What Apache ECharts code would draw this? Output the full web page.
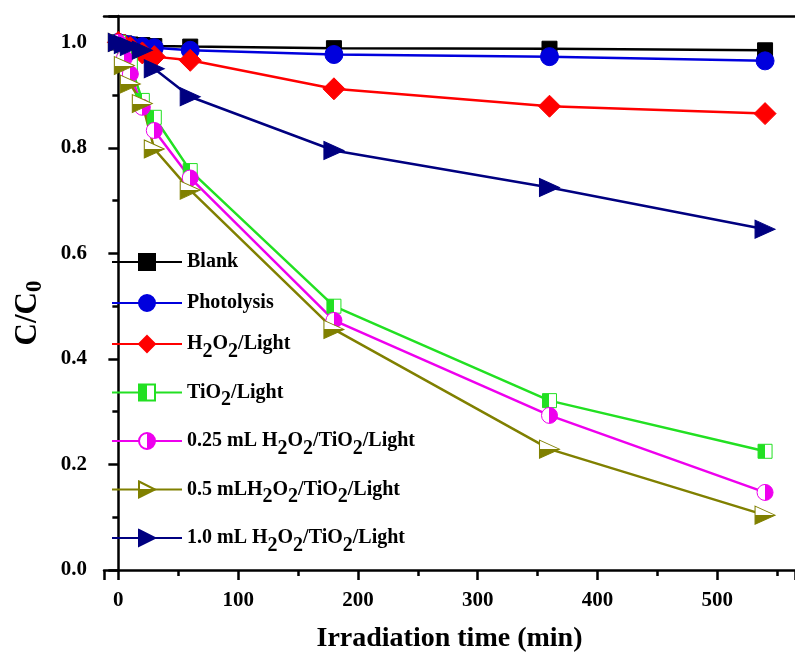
<!DOCTYPE html>
<html>
<head>
<meta charset="utf-8">
<script src="https://cdn.jsdelivr.net/npm/echarts@6/dist/echarts.min.js"></script>
<style>
  html, body { margin: 0; padding: 0; background: #fff; }
  #chart { width: 795px; height: 658px; }
</style>
</head>
<body>
<div id="chart"></div>
<script>
// irradiation time (min)
const times = [0, 5, 10, 20, 30, 60, 180, 360, 540];

// C/C0 for each run
const blank = [1.0, 0.998, 0.996, 0.995, 0.993, 0.992, 0.989, 0.988, 0.985];
const photolysis = [1.0, 0.997, 0.995, 0.992, 0.99, 0.985, 0.977, 0.973, 0.965];
const h2o2Light = [1.0, 0.995, 0.99, 0.98, 0.973, 0.966, 0.912, 0.879, 0.865];
const tio2Light = [1.0, 0.975, 0.958, 0.89, 0.858, 0.757, 0.5, 0.321, 0.225];
const h2o2_025 = [1.0, 0.97, 0.94, 0.877, 0.833, 0.743, 0.473, 0.293, 0.147];
const h2o2_05 = [1.0, 0.956, 0.921, 0.884, 0.798, 0.72, 0.456, 0.229, 0.104];
const h2o2_10 = [1.0, 0.996, 0.992, 0.985, 0.95, 0.897, 0.795, 0.725, 0.646];

const seriesNames = [
    'Blank',
    'Photolysis',
    'H2O2/Light',
    'TiO2/Light',
    '0.25 mL H2O2/TiO2/Light',
    '0.5 mLH2O2/TiO2/Light',
    '1.0 mL H2O2/TiO2/Light'
];

const font = 'Liberation Serif';
const rightTri = 'path://M0,0 L10,5 L0,10 Z';

// hard-stop gradient used for the half filled markers
function half(colA, colB, vertical) {
    return {
        type: 'linear', x: 0, y: 0, x2: vertical ? 0 : 1, y2: vertical ? 1 : 0,
        colorStops: [
            { offset: 0, color: colA }, { offset: 0.5, color: colA },
            { offset: 0.5, color: colB }, { offset: 1, color: colB }
        ]
    };
}

function pairs(ys) {
    return times.map((t, i) => [t, ys[i]]);
}

function mkSeries(name, ys, color, symbol, size, fill) {
    return {
        name: name,
        type: 'line',
        data: pairs(ys),
        symbol: symbol,
        symbolSize: size,
        lineStyle: { color: color, width: 2.5 },
        itemStyle: { color: fill || color, borderColor: color, borderWidth: 1 },
        emphasis: { disabled: true },
        animation: false
    };
}

const chart = echarts.init(document.getElementById('chart'));

const option = {
    backgroundColor: '#fff',
    grid: { left: 104, right: 0, top: 16, bottom: 88 },
    legend: {
        orient: 'vertical',
        left: 111,
        top: 252,
        padding: 0,
        itemWidth: 70,
        itemHeight: 20,
        itemGap: 21,
        selectedMode: false,
        data: seriesNames,
        // subscript the 2 in H2 / O2
        formatter: name => name.replace(/([HO])2/g, '$1{s|2}'),
        textStyle: {
            fontFamily: font, fontWeight: 'bold', fontSize: 20, color: '#000',
            rich: {
                s: { fontFamily: font, fontWeight: 'bold', fontSize: 20, color: '#000', padding: [15, 0, 0, 0] }
            }
        }
    },
    xAxis: [{
        type: 'value',
        min: -12,
        max: 565,
        name: 'Irradiation time (min)',
        nameLocation: 'middle',
        nameGap: 55,
        nameTextStyle: { fontFamily: font, fontWeight: 'bold', fontSize: 28, color: '#000' },
        splitLine: { show: false },
        axisLine: { lineStyle: { color: '#000', width: 2.5 } },
        axisTick: { length: 10, lineStyle: { color: '#000', width: 2.5 } },
        minorTick: { show: true, splitNumber: 2, length: 6, lineStyle: { color: '#000', width: 2.5 } },
        axisLabel: {
            showMinLabel: false, showMaxLabel: false, margin: 20,
            fontFamily: font, fontWeight: 'bold', fontSize: 21, color: '#000'
        }
    }, {
        type: 'value',
        position: 'top',
        min: -12,
        max: 565,
        axisLine: { lineStyle: { color: '#000', width: 2.5 } },
        axisTick: { show: false },
        axisLabel: { show: false },
        splitLine: { show: false }
    }],
    yAxis: {
        type: 'value',
        min: 0,
        max: 1.05,
        interval: 0.2,
        name: 'C/C{s|0}',
        nameLocation: 'middle',
        nameGap: 57,
        nameTextStyle: {
            fontFamily: font, fontWeight: 'bold', fontSize: 31, color: '#000',
            padding: [0, 40, 0, 0],
            rich: { s: { fontFamily: font, fontWeight: 'bold', fontSize: 23, color: '#000', padding: [16, 0, 0, 0] } }
        },
        splitLine: { show: false },
        axisLine: { show: true, lineStyle: { color: '#000', width: 2.5 } },
        axisTick: { length: 10, lineStyle: { color: '#000', width: 2.5 } },
        minorTick: { show: true, splitNumber: 2, length: 6, lineStyle: { color: '#000', width: 2.5 } },
        axisLabel: {
            showMaxLabel: false, margin: 17,
            formatter: v => v.toFixed(1),
            fontFamily: font, fontWeight: 'bold', fontSize: 21, color: '#000'
        }
    },
    series: [
        mkSeries(seriesNames[0], blank, '#000000', 'rect', 15),
        mkSeries(seriesNames[1], photolysis, '#0000dd', 'circle', 18),
        mkSeries(seriesNames[2], h2o2Light, '#ff0000', 'diamond', 22),
        mkSeries(seriesNames[3], tio2Light, '#22e022', 'rect', 14, half('#22e022', '#ffffff', false)),
        mkSeries(seriesNames[4], h2o2_025, '#ee00ee', 'circle', 16, half('#ffffff', '#ee00ee', false)),
        mkSeries(seriesNames[5], h2o2_05, '#808000', rightTri, [20, 18], half('#ffffff', '#808000', true)),
        mkSeries(seriesNames[6], h2o2_10, '#000080', rightTri, [20, 18])
    ]
};

chart.setOption(option);
</script>
</body>
</html>
